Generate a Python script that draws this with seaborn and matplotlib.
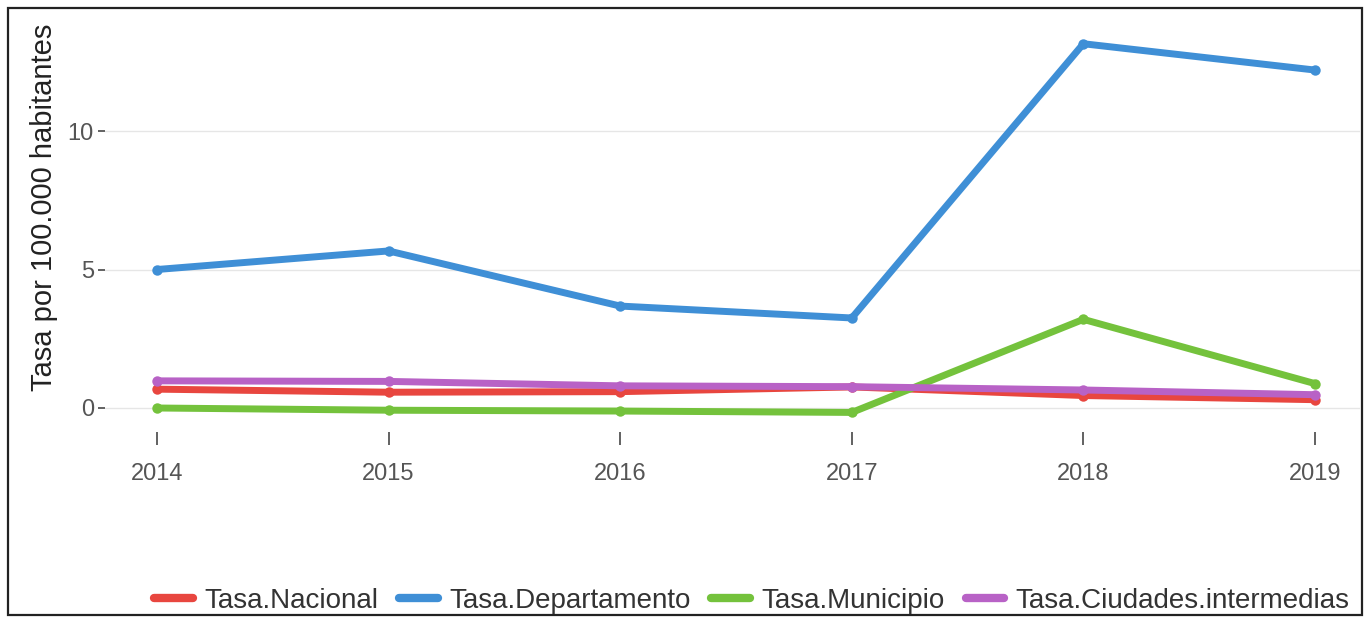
import matplotlib
matplotlib.use("Agg")
import matplotlib.pyplot as plt
import seaborn as sns
import pandas as pd
from matplotlib.patches import Rectangle

years = [2014, 2015, 2016, 2017, 2018, 2019]
series_names = ["Tasa.Nacional", "Tasa.Departamento", "Tasa.Municipio", "Tasa.Ciudades.intermedias"]
tasa_nacional = [0.68, 0.57, 0.59, 0.76, 0.45, 0.30]
tasa_departamento = [5.0, 5.67, 3.68, 3.25, 13.15, 12.2]
tasa_municipio = [0.0, -0.08, -0.11, -0.16, 3.2, 0.88]
tasa_ciudades = [0.98, 0.96, 0.80, 0.77, 0.65, 0.48]
colors = ["#E8463F", "#3F8FD6", "#74C23C", "#B862C6"]
y_label = "Tasa por 100.000 habitantes"
y_ticks = [0, 5, 10]

df = pd.DataFrame({
    "Year": years * 4,
    "value": tasa_nacional + tasa_departamento + tasa_municipio + tasa_ciudades,
    "variable": sum([[n] * len(years) for n in series_names], []),
})

sns.set_theme(style="white")
plt.rcParams["font.family"] = ["Liberation Sans", "DejaVu Sans"]

W, H = 1367, 620
fig = plt.figure(figsize=(W / 100, H / 100), dpi=100)
L, R, T, B = 105, 1360, 12, 432
ax = fig.add_axes([L / W, 1 - B / H, (R - L) / W, (B - T) / H])

sns.lineplot(data=df, x="Year", y="value", hue="variable", hue_order=series_names,
             palette=colors, linewidth=5.0, marker="o", markersize=7.5,
             markeredgewidth=0, ax=ax, legend=True)

px_year = (1315 - 157) / 5
ax.set_xlim(2014 - (157 - L) / px_year, 2019 + (R - 1315) / px_year)
px_unit = (408 - 131) / 10
ax.set_ylim(-(B - 408) / px_unit, (408 - T) / px_unit)

ax.set_xticks(years)
ax.set_xticklabels([str(y) for y in years])
ax.set_yticks(y_ticks)
ax.set_yticklabels([str(v) for v in y_ticks])
ax.tick_params(axis="both", colors="#555555", labelsize=17, length=5, width=1.3,
               direction="out", bottom=True, left=True, pad=3)
ax.tick_params(axis="x", length=9, pad=13)
for lab in ax.get_xticklabels() + ax.get_yticklabels():
    lab.set_color("#555555")

ax.grid(axis="y", color="#E6E6E6", linewidth=1.0)
ax.grid(axis="x", visible=False)
for s in ax.spines.values():
    s.set_visible(False)

ax.set_xlabel("")
ax.set_ylabel(y_label, fontsize=21, color="#222222")
ax.yaxis.set_label_coords((58 - L) / (R - L), (B - 207) / (B - T))

handles, labels = ax.get_legend_handles_labels()
ax.get_legend().remove()
for h in handles:
    h.set_marker("")
    h.set_linewidth(6)
fig.legend(handles, labels, loc="center", bbox_to_anchor=(752 / W, 1 - 601 / H),
           ncol=4, frameon=False, fontsize=20, handlelength=1.4, handletextpad=0.4,
           columnspacing=0.75, labelcolor="#333333")

fig.patches.append(Rectangle((8 / W, 1 - 615 / H), (1362 - 8) / W, (615 - 8) / H,
                             transform=fig.transFigure, fill=False,
                             edgecolor="#222222", linewidth=1.6))

fig.savefig("out.png", dpi=100)
